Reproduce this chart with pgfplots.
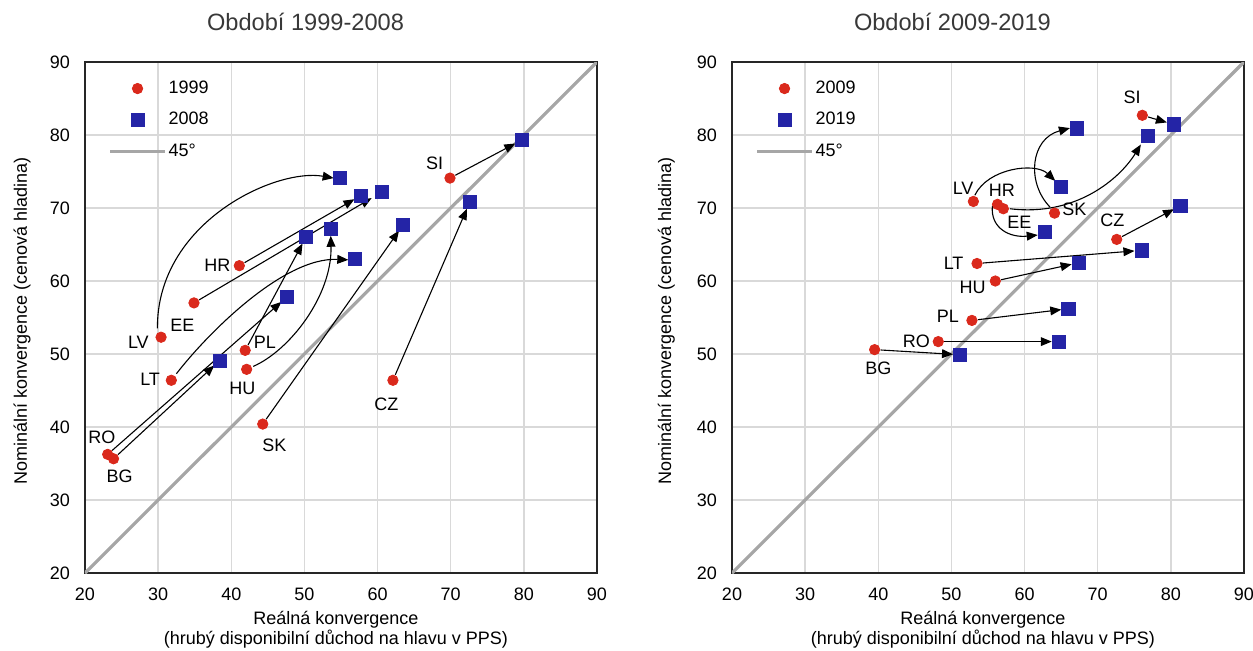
\documentclass[border=0pt]{standalone}
\usepackage{fontspec}
\setmainfont{Liberation Sans}
\usepackage{pgfplots}
\pgfplotsset{compat=1.18}
\usetikzlibrary{arrows.meta}
\definecolor{ptred}{RGB}{218,41,28}
\definecolor{ptblue}{RGB}{36,36,166}
\definecolor{diagc}{RGB}{166,166,166}
\definecolor{gridc}{RGB}{217,217,217}
\newcommand{\nf}{\fontsize{9}{10}\selectfont}
\pgfplotsset{
  convstyle/.style={
    scale only axis, width=256pt, height=255.5pt,
    anchor=south west,
    xmin=20,xmax=90,ymin=20,ymax=90,
    xtick={20,30,...,90}, ytick={20,30,...,90},
    grid=major, major grid style={gridc, line width=0.75pt},
    axis line style={black!85, line width=0.6pt},
    major tick length=0pt,
    tick label style={font=\nf},
    /pgf/number format/assume math mode=true,
    xticklabel style={yshift=-4pt},
    yticklabel style={xshift=-4pt},
    title style={font=\fontsize{11.8}{14}\selectfont, text=black!78, anchor=center},
    xlabel style={font=\nf, align=center, anchor=north, at={(axis description cs:0.49,-0.061)}},
    ylabel style={font=\nf, anchor=center},
    legend style={draw=none, fill=none, at={(axis description cs:0.045,0.968)}, anchor=north west,
      font=\nf, row sep=6pt, inner sep=0pt, nodes={inner sep=1pt}},
    legend cell align=left,
  },
  redpt/.style={only marks, mark=*, mark size=2.6pt, mark options={fill=ptred, draw=ptred},
    legend image code/.code={\draw[mark repeat=2,mark phase=2,##1] plot coordinates {(0pt,0pt) (13.75pt,0pt) (27.5pt,0pt)};}},
  bluept/.style={only marks, mark=square*, mark size=3.3pt, mark options={fill=ptblue, draw=ptblue},
    legend image code/.code={\draw[mark repeat=2,mark phase=2,##1] plot coordinates {(0pt,0pt) (13.75pt,0pt) (27.5pt,0pt)};}},
  diagl/.style={diagc, line width=1.6pt, no marks,
    legend image code/.code={\draw[##1] (0pt,0pt) -- (27.5pt,0pt);}},
}
\tikzset{
  arr/.style={-{Triangle[length=5.5pt,width=4.4pt]}, line width=0.55pt, black},
  sarr/.style={arr, shorten <=3pt, shorten >=3.6pt},
  lab/.style={font=\nf, inner sep=0pt, text=black},
}
\begin{document}
\begin{tikzpicture}
\useasboundingbox (0,0) rectangle (626.5pt,325pt);
% ---------------- left panel ----------------
\begin{axis}[convstyle, at={(42.5pt,38.5pt)},
  title={Období 1999-2008}, title style={at={(axis description cs:0.4307,1.054)}},
  xlabel={Reálná konvergence\\(hrubý disponibilní důchod na hlavu v PPS)},
  ylabel={Nominální konvergence (cenová hladina)},
  ylabel style={at={(axis description cs:-0.123,0.494)}},
]
\addplot[diagl, forget plot] coordinates {(20,20) (90,90)};
\addplot[redpt] coordinates {
 (69.9,74.1) (62.1,46.4) (44.3,40.4) (42.1,47.9) (41.9,50.5) (31.8,46.4)
 (30.4,52.3) (34.9,57.0) (41.1,62.1) (23.1,36.25) (23.9,35.65)};
\addlegendentry{1999}
\addplot[bluept] coordinates {
 (79.7,79.3) (72.6,70.8) (63.5,67.7) (53.6,67.1) (50.2,66.0) (56.9,63.0)
 (54.8,74.1) (60.6,72.2) (57.7,71.7) (47.6,57.8) (38.4,49.1)};
\addlegendentry{2008}
\addlegendimage{diagl}
\addlegendentry{45°}
% straight arrows
\draw[sarr] (axis cs:69.9,74.1) -- (axis cs:79.7,79.3);
\draw[sarr] (axis cs:62.1,46.4) -- (axis cs:72.6,70.8);
\draw[sarr] (axis cs:44.3,40.4) -- (axis cs:63.5,67.7);
\draw[sarr] (axis cs:41.9,50.5) -- (axis cs:50.2,66.0);
\draw[sarr] (axis cs:41.1,62.1) -- (axis cs:57.7,71.7);
\draw[sarr, shorten >=6pt] (axis cs:34.9,57.0) -- (axis cs:60.6,72.2);
\draw[sarr] (axis cs:23.1,36.25) -- (axis cs:47.6,57.8);
\draw[sarr] (axis cs:23.9,35.65) -- (axis cs:38.4,49.1);
% curved arrows
\draw[arr] (axis cs:29.9,53.5) .. controls (axis cs:29.8,68) and (axis cs:46,75.5) .. (axis cs:54.0,74.1);
\draw[arr] (axis cs:32.5,47.3) .. controls (axis cs:36.5,52.5) and (axis cs:47,63.3) .. (axis cs:56.0,62.9);
\draw[arr] (axis cs:43.0,48.3) .. controls (axis cs:48,50.5) and (axis cs:53.8,58) .. (axis cs:53.6,66.2);
% labels
\node[lab] at (axis cs:67.8,76.1) {SI};
\node[lab] at (axis cs:61.2,43.1) {CZ};
\node[lab] at (axis cs:45.9,37.45) {SK};
\node[lab] at (axis cs:41.5,45.3) {HU};
\node[lab] at (axis cs:44.6,51.6) {PL};
\node[lab] at (axis cs:28.9,46.6) {LT};
\node[lab] at (axis cs:27.3,51.6) {LV};
\node[lab] at (axis cs:33.3,54.0) {EE};
\node[lab] at (axis cs:38.1,62.2) {HR};
\node[lab] at (axis cs:22.3,38.6) {RO};
\node[lab] at (axis cs:24.75,33.2) {BG};
\end{axis}
% ---------------- right panel ----------------
\begin{axis}[convstyle, at={(366pt,38.5pt)},
  title={Období 2009-2019}, title style={at={(axis description cs:0.4305,1.054)}},
  xlabel={Reálná konvergence\\(hrubý disponibilní důchod na hlavu v PPS)},
  ylabel={Nominální konvergence (cenová hladina)},
  ylabel style={at={(axis description cs:-0.128,0.494)}},
]
\addplot[diagl, forget plot] coordinates {(20,20) (90,90)};
\addplot[redpt] coordinates {
 (76.1,82.7) (72.6,65.7) (64.1,69.3) (56.0,60.0) (52.8,54.6) (53.5,62.4)
 (53.0,70.9) (57.1,69.9) (56.3,70.5) (48.2,51.7) (39.5,50.6)};
\addlegendentry{2009}
\addplot[bluept] coordinates {
 (80.4,81.45) (81.3,70.3) (67.2,80.9) (67.4,62.5) (66.0,56.2) (76.0,64.2)
 (65.0,72.9) (76.9,79.9) (62.8,66.7) (64.7,51.7) (51.2,49.9)};
\addlegendentry{2019}
\addlegendimage{diagl}
\addlegendentry{45°}
% straight arrows
\draw[sarr] (axis cs:76.1,82.7) -- (axis cs:80.4,81.45);
\draw[sarr] (axis cs:72.6,65.7) -- (axis cs:81.3,70.3);
\draw[sarr] (axis cs:53.5,62.4) -- (axis cs:76.0,64.2);
\draw[sarr] (axis cs:56.0,60.0) -- (axis cs:67.4,62.5);
\draw[sarr] (axis cs:52.8,54.6) -- (axis cs:66.0,56.2);
\draw[sarr] (axis cs:48.2,51.7) -- (axis cs:64.7,51.7);
\draw[sarr] (axis cs:39.5,50.6) -- (axis cs:51.2,49.9);
% curved arrows
\draw[arr] (axis cs:53.2,71.75) .. controls (axis cs:55,75.5) and (axis cs:61.5,76.3) .. (axis cs:64.2,73.7);
\draw[arr] (axis cs:63.5,70.1) .. controls (axis cs:60.2,73.5) and (axis cs:60.8,79.5) .. (axis cs:66.2,80.95);
\draw[arr] (axis cs:55.6,70.3) .. controls (axis cs:55.3,67.2) and (axis cs:58,65.9) .. (axis cs:61.8,66.3);
\draw[arr] (axis cs:58.0,69.9) .. controls (axis cs:67,68.8) and (axis cs:73,74) .. (axis cs:75.9,78.7);
% labels
\node[lab] at (axis cs:74.7,85.15) {SI};
\node[lab] at (axis cs:51.6,72.7) {LV};
\node[lab] at (axis cs:56.9,72.4) {HR};
\node[lab] at (axis cs:59.3,68.1) {EE};
\node[lab] at (axis cs:66.8,69.8) {SK};
\node[lab] at (axis cs:72.0,68.3) {CZ};
\node[lab] at (axis cs:50.3,62.4) {LT};
\node[lab] at (axis cs:52.9,59.1) {HU};
\node[lab] at (axis cs:49.5,55.1) {PL};
\node[lab] at (axis cs:45.2,51.8) {RO};
\node[lab] at (axis cs:40.0,48.0) {BG};
\end{axis}
\end{tikzpicture}
\end{document}
